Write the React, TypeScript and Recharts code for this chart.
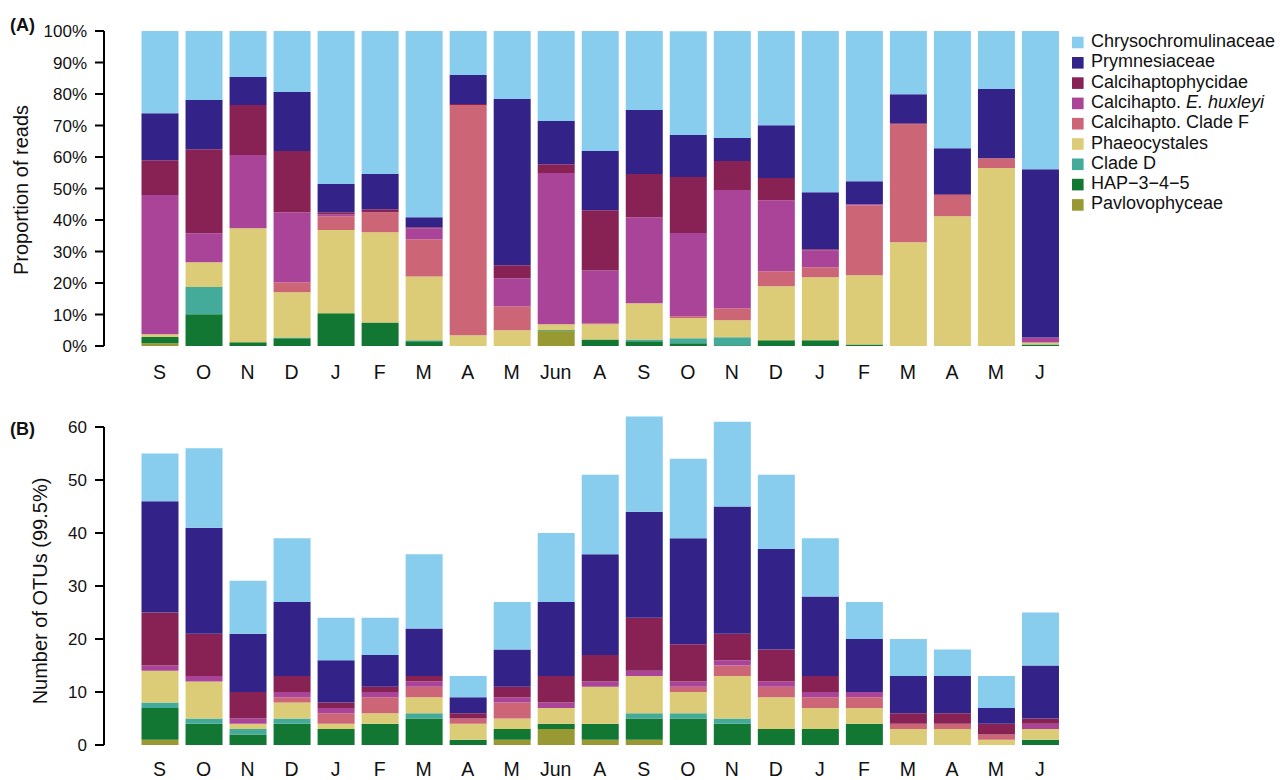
import React from "react";
import { BarChart, Bar, XAxis, YAxis } from "recharts";

const FONT = "'Liberation Sans', Arial, Helvetica, sans-serif";

const months = ["S", "O", "N", "D", "J", "F", "M", "A", "M", "Jun", "A", "S", "O", "N", "D", "J", "F", "M", "A", "M", "J"];

// (A) proportion of reads, %
const pavReads = [0.85, 0, 0, 0, 0, 0, 0, 0, 0, 4.7, 0, 0, 0, 0, 0, 0, 0, 0, 0, 0, 0];
const hapReads = [2.0, 10.1, 1.2, 2.5, 10.4, 7.5, 1.5, 0, 0, 0.3, 2.1, 1.5, 0.85, 0.2, 1.8, 1.8, 0.5, 0, 0, 0, 0.5];
const cladeDReads = [0, 8.6, 0, 0.2, 0, 0, 0.3, 0, 0, 0, 0, 0.6, 1.6, 2.6, 0, 0, 0, 0, 0, 0, 0];
const phaeoReads = [0.85, 7.9, 36.2, 14.4, 26.4, 28.6, 20.3, 3.4, 5.0, 1.9, 4.8, 11.5, 6.4, 5.4, 17.2, 20.0, 22.0, 32.9, 41.2, 56.5, 0.6];
const cladeFReads = [0, 0, 0, 3.1, 4.4, 6.4, 11.8, 73.1, 7.6, 0, 0.3, 0, 0.6, 3.8, 4.7, 3.2, 22.2, 37.5, 6.7, 3.1, 0];
const ehuxReads = [44.2, 9.2, 23.2, 22.3, 0.6, 0, 3.5, 0, 8.9, 48.0, 16.8, 27.3, 26.4, 37.5, 22.6, 5.4, 0.3, 0, 0, 0, 1.6];
const calciReads = [11.1, 26.7, 15.9, 19.4, 0.7, 0.9, 0.3, 0.3, 4.1, 2.8, 19.1, 13.7, 17.8, 9.2, 7.0, 0.3, 0, 0.3, 0.3, 0, 0];
const prymReads = [14.9, 15.6, 8.9, 18.7, 8.9, 11.2, 3.2, 9.2, 52.8, 13.7, 18.8, 20.3, 13.3, 7.3, 16.8, 18.1, 7.3, 9.2, 14.6, 22.0, 53.4];
const chrysoReads = [26.1, 21.9, 14.6, 19.4, 48.6, 45.4, 59.1, 14.0, 21.6, 28.6, 38.1, 25.1, 33.0, 34.0, 29.9, 51.2, 47.7, 20.1, 37.2, 18.4, 43.9];

// (B) number of OTUs
const pavOtus = [1, 0, 0, 0, 0, 0, 0, 0, 1, 3, 1, 1, 0, 0, 0, 0, 0, 0, 0, 0, 0];
const hapOtus = [6, 4, 2, 4, 3, 4, 5, 1, 2, 1, 3, 4, 5, 4, 3, 3, 4, 0, 0, 0, 1];
const cladeDOtus = [1, 1, 1, 1, 0, 0, 1, 0, 0, 0, 0, 1, 1, 1, 0, 0, 0, 0, 0, 0, 0];
const phaeoOtus = [6, 7, 1, 3, 1, 2, 3, 3, 2, 3, 7, 7, 4, 8, 6, 4, 3, 3, 3, 1, 2];
const cladeFOtus = [0, 0, 0, 1, 2, 3, 2, 1, 3, 0, 0, 0, 1, 2, 2, 2, 2, 1, 1, 1, 0];
const ehuxOtus = [1, 1, 1, 1, 1, 1, 1, 0, 1, 1, 1, 1, 1, 1, 1, 1, 1, 0, 0, 0, 1];
const calciOtus = [10, 8, 5, 3, 1, 1, 1, 1, 2, 5, 5, 10, 7, 5, 6, 3, 0, 2, 2, 2, 1];
const prymOtus = [21, 20, 11, 14, 8, 6, 9, 3, 7, 14, 19, 20, 20, 24, 19, 15, 10, 7, 7, 3, 10];
const chrysoOtus = [9, 15, 10, 12, 8, 7, 14, 4, 9, 13, 15, 18, 15, 16, 14, 11, 7, 7, 5, 6, 10];

const readTicks = [0, 10, 20, 30, 40, 50, 60, 70, 80, 90, 100];
const otuTicks = [0, 10, 20, 30, 40, 50, 60];

// stacking order, bottom first
const groups = [
  { key: "pav", name: "Pavlovophyceae", color: "#999933", reads: pavReads, otus: pavOtus },
  { key: "hap", name: "HAP\u22123\u22124\u22125", color: "#117733", reads: hapReads, otus: hapOtus },
  { key: "cladeD", name: "Clade D", color: "#44AA99", reads: cladeDReads, otus: cladeDOtus },
  { key: "phaeo", name: "Phaeocystales", color: "#DDCC77", reads: phaeoReads, otus: phaeoOtus },
  { key: "cladeF", name: "Calcihapto. Clade F", color: "#CC6677", reads: cladeFReads, otus: cladeFOtus },
  { key: "ehux", name: "Calcihapto. ", italic: "E. huxleyi", color: "#AA4499", reads: ehuxReads, otus: ehuxOtus },
  { key: "calci", name: "Calcihaptophycidae", color: "#882255", reads: calciReads, otus: calciOtus },
  { key: "prym", name: "Prymnesiaceae", color: "#332288", reads: prymReads, otus: prymOtus },
  { key: "chryso", name: "Chrysochromulinaceae", color: "#88CCEE", reads: chrysoReads, otus: chrysoOtus },
];

const readsRows = months.map((m, i) => {
  const row: Record<string, string | number> = { month: m };
  groups.forEach((g) => (row[g.key] = g.reads[i]));
  return row;
});

const otuRows = months.map((m, i) => {
  const row: Record<string, string | number> = { month: m };
  groups.forEach((g) => (row[g.key] = g.otus[i]));
  return row;
});

const axisStroke = { stroke: "#000", strokeWidth: 2 };
const yTick = { fontSize: 17, fill: "#111", fontFamily: FONT };
const xTick = { fontSize: 19.5, fill: "#111", fontFamily: FONT };

// panel B: domain runs to 62 so the tallest bar fits; axis line only drawn 0..60
const OTU_MAX = 62;
const OTU_PLOT_H = 328.6;
const otuGap = (OTU_PLOT_H * (OTU_MAX - 60)) / OTU_MAX;

function Bars() {
  return groups.map((g) => (
    <Bar key={g.key} dataKey={g.key} name={g.name} stackId="s" fill={g.color} isAnimationActive={false} />
  ));
}

function Legend() {
  const legendOrder = [...groups].reverse();
  return (
    <g fontFamily={FONT} fontSize={18} fill="#111">
      {legendOrder.map((g, i) => (
        <g key={g.key}>
          <rect x={1072} y={36.7 + i * 20.3} width={11.6} height={11.6} fill={g.color} />
          <text x={1091} y={47 + i * 20.3}>
            {g.name}
            {g.italic ? <tspan fontStyle="italic">{g.italic}</tspan> : null}
          </text>
        </g>
      ))}
    </g>
  );
}

export default function App() {
  return (
    <div style={{ position: "absolute", left: 0, top: 0, width: 1282, height: 780, background: "#fff", fontFamily: FONT }}>
      <div style={{ position: "absolute", left: 0, top: 0 }}>
        <BarChart width={1062} height={400} data={readsRows} margin={{ top: 31, right: 0, bottom: 14, left: 44 }} barSize={37}>
          <XAxis
            dataKey="month"
            interval={0}
            axisLine={false}
            tickLine={false}
            tickSize={6}
            tickMargin={13}
            height={40}
            padding={{ left: 33.5, right: 0 }}
            tick={xTick}
          />
          <YAxis
            width={60}
            domain={[0, 100]}
            allowDataOverflow
            ticks={readTicks}
            interval={0}
            tickFormatter={(v) => `${v}%`}
            axisLine={axisStroke}
            tickLine={axisStroke}
            tickSize={9}
            tickMargin={8}
            tick={yTick}
          />
          {Bars()}
        </BarChart>
      </div>
      <div style={{ position: "absolute", left: 0, top: 380 }}>
        <BarChart width={1062} height={400} data={otuRows} margin={{ top: 36.4, right: 0, bottom: 5, left: 44 }} barSize={37}>
          <XAxis
            dataKey="month"
            interval={0}
            axisLine={false}
            tickLine={false}
            tickSize={6}
            tickMargin={11}
            height={30}
            padding={{ left: 33.5, right: 0 }}
            tick={xTick}
          />
          <YAxis
            width={60}
            domain={[0, OTU_MAX]}
            ticks={otuTicks}
            interval={0}
            axisLine={{ ...axisStroke, strokeDasharray: `0 ${otuGap} 1000` }}
            tickLine={axisStroke}
            tickSize={9}
            tickMargin={8}
            tick={yTick}
          />
          {Bars()}
        </BarChart>
      </div>
      <svg width={1282} height={780} style={{ position: "absolute", left: 0, top: 0, pointerEvents: "none" }}>
        <text x={10} y={31} fontFamily={FONT} fontSize={18} fontWeight="bold" fill="#111">(A)</text>
        <text x={10} y={435} fontFamily={FONT} fontSize={18} fontWeight="bold" fill="#111">(B)</text>
        <text x={28} y={190} transform="rotate(-90, 28, 190)" textAnchor="middle" fontFamily={FONT} fontSize={20} fill="#111">
          Proportion of reads
        </text>
        <text x={46.5} y={591} transform="rotate(-90, 46.5, 591)" textAnchor="middle" fontFamily={FONT} fontSize={20} fill="#111">
          Number of OTUs (99.5%)
        </text>
        <Legend />
      </svg>
    </div>
  );
}
